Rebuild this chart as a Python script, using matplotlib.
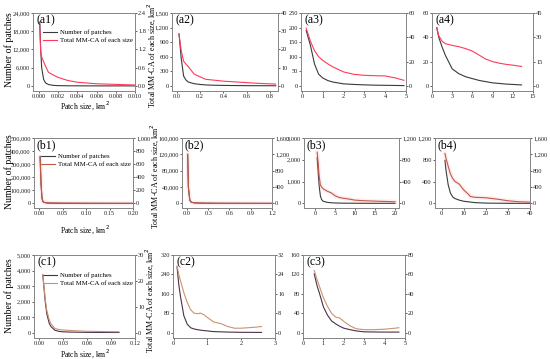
import matplotlib
matplotlib.use("Agg")
import matplotlib.pyplot as plt
from matplotlib.ticker import FuncFormatter

plt.rcParams['font.family'] = ['Liberation Serif', 'DejaVu Serif']

# ---- data ----
a1_x = [0.0001, 0.0002, 0.0003, 0.0005, 0.0007, 0.001, 0.0015, 0.002, 0.003, 0.004, 0.006, 0.008, 0.010]
a1_n = [21000, 12000, 6000, 2200, 1000, 450, 180, 90, 40, 20, 10, 5, 3]
a1_t = [2.0, 1.1, 0.95, 0.8, 0.65, 0.45, 0.36, 0.28, 0.18, 0.12, 0.07, 0.05, 0.03]

a2_x = [0.02, 0.04, 0.06, 0.08, 0.1, 0.15, 0.2, 0.25, 0.3, 0.4, 0.5, 0.6, 0.7, 0.85]
a2_n = [1070, 550, 200, 120, 80, 45, 30, 20, 15, 10, 7, 5, 4, 3]
a2_t = [28.5, 19, 13.5, 12, 10.5, 6.5, 5, 3.6, 3.3, 2.6, 2.2, 1.8, 1.4, 1.0]

a3_x = [0.2, 0.4, 0.6, 0.8, 1.0, 1.25, 1.5, 2.0, 2.5, 3.0, 3.5, 4.0, 4.5, 4.9]
a3_n = [190, 140, 75, 40, 27, 18, 13, 7, 5, 3.5, 2.5, 2, 1.5, 1]
a3_t = [47.5, 37, 29, 24, 21, 18, 15.5, 11.5, 9.5, 8.7, 8.4, 8.2, 6.5, 4.6]

a4_x = [0.7, 1.0, 1.5, 2, 3, 4, 5, 6, 7, 8, 9, 10, 11, 12, 13.3]
a4_n = [48, 40, 32, 25, 14, 10, 7.5, 6, 4.5, 3.5, 2.5, 2, 1.5, 1.2, 0.8]
a4_t = [36, 31, 27.5, 26, 25, 24.2, 23, 21.5, 19, 16.5, 15, 14, 13.3, 12.8, 12]

b1_x = [0.002, 0.004, 0.006, 0.008, 0.01, 0.015, 0.02, 0.03, 0.05, 0.1, 0.15, 0.2]
b1_n = [360000, 150000, 40000, 15000, 8000, 4000, 2500, 1500, 800, 300, 150, 100]
b1_t = [700, 300, 80, 30, 18, 12, 9, 7, 5, 3, 2, 1.5]

b2_x = [0.01, 0.02, 0.04, 0.06, 0.1, 0.2, 0.4, 0.6, 0.8, 1.0, 1.2]
b2_n = [120000, 40000, 8000, 3000, 1500, 700, 300, 150, 100, 70, 50]
b2_t = [1200, 400, 80, 30, 15, 8, 5, 4, 3, 2.5, 2]

b3_x = [0.5, 0.8, 1.0, 1.3, 1.6, 2, 3, 4, 5, 6, 7, 8, 10, 12, 15, 20]
b3_n = [2100, 1300, 800, 350, 180, 100, 50, 30, 20, 15, 12, 10, 8, 6, 5, 3]
b3_t = [940, 700, 500, 340, 300, 270, 225, 195, 140, 110, 95, 85, 60, 50, 42, 30]

b4_x = [1.5, 2, 3, 4, 5, 6, 8, 10, 12, 13, 15, 20, 25, 30, 35, 40]
b4_n = [790, 600, 335, 190, 120, 90, 60, 40, 30, 25, 15, 6, 4, 2, 1, 1]
b4_t = [1220, 1100, 900, 720, 610, 540, 470, 330, 230, 170, 150, 138, 106, 65, 40, 32]

c1_x = [0.005, 0.008, 0.01, 0.013, 0.015, 0.02, 0.025, 0.03, 0.04, 0.06, 0.08, 0.1]
c1_n = [3700, 2000, 1200, 600, 400, 150, 80, 50, 30, 15, 8, 5]
c1_t = [22.5, 13, 8.5, 5, 3.5, 1.6, 1.2, 1.0, 0.8, 0.5, 0.4, 0.3]

c2_x = [0.1, 0.15, 0.2, 0.3, 0.4, 0.5, 0.6, 0.7, 0.8, 0.9, 1.0, 1.1, 1.2, 1.4, 1.6, 1.8, 2.0, 2.2, 2.4, 2.6]
c2_n = [270, 200, 150, 70, 35, 20, 15, 12, 10, 8, 7, 5, 4, 3, 2, 1.5, 1, 1, 0.8, 0.5]
c2_t = [27.5, 24, 21.5, 16.5, 12.5, 9.5, 8, 7.8, 8, 7.3, 6.2, 5.2, 4.3, 3.7, 2.5, 1.8, 1.8, 2.0, 2.2, 2.5]

c3_x = [0.55, 0.7, 0.8, 1.0, 1.2, 1.4, 1.6, 1.8, 2.0, 2.3, 2.6, 3.0, 3.5, 4.0, 4.5, 4.7]
c3_n = [121, 95, 82, 53, 36, 24, 18, 13, 9, 6, 3.5, 1.5, 1.2, 1, 1, 1]
c3_t = [64, 54, 48, 36, 27, 20, 16, 15, 11.5, 7, 4, 3, 3, 3.5, 4.5, 5]

W, H = 550, 359
fig = plt.figure(figsize=(5.5, 3.59), dpi=100)

fs = 4.6
row_cols = {'a': ('#3a3a3a', '#ff3a5a'), 'b': ('#3a3a3a', '#c05a48'), 'c': ('#4b3049', '#c89470')}


def fmt_int(v, p):
    return f"{v:,.0f}"


def panel(name, box, x, n, t, xlim, xticks, xfmt, lticks, rticks, rfmt=fmt_int, legend=False):
    x0, x1, y0, y1 = box
    ax = fig.add_axes([x0 / W, 1 - y1 / H, (x1 - x0) / W, (y1 - y0) / H])
    ax2 = ax.twinx()
    kcol, rcol = row_cols[name[0]]
    l1, = ax.plot(x, n, color=kcol, lw=0.8)
    if name[0] == 'b':
        ax2.plot(x, t, color='#ff8090', lw=3, alpha=0.15)
    l2, = ax2.plot(x, t, color=rcol, lw=0.8)
    ax.set_xlim(*xlim)
    ax.set_xticks(xticks)
    ax.xaxis.set_major_formatter(FuncFormatter(lambda v, p: xfmt.format(v)))
    ax.set_yticks(lticks)
    ax.yaxis.set_major_formatter(FuncFormatter(fmt_int))
    ax.set_ylim(-0.07 * lticks[-1], lticks[-1])
    ax2.set_yticks(rticks)
    ax2.yaxis.set_major_formatter(FuncFormatter(rfmt))
    ax2.set_ylim(-0.07 * rticks[-1], rticks[-1])
    for a in (ax, ax2):
        a.tick_params(labelsize=fs, direction='out', length=1.5, width=0.5, pad=0.8, colors='#222222')
        for s in a.spines.values():
            s.set_color('#888888')
            s.set_linewidth(0.7)
    ax.text(0.03, 0.98, '(' + name + ')', transform=ax.transAxes, fontsize=8.5, va='top', ha='left')
    if legend:
        ax.legend([l1, l2], ['Number of patches', 'Total MM-CA of each size'], loc='upper right',
                  bbox_to_anchor=(1.02, 0.84), frameon=False, fontsize=4.9, handlelength=2.0,
                  labelspacing=0.35, borderaxespad=0.2, handletextpad=0.5)
    return ax


panel('a1', (33, 135, 13, 91), a1_x, a1_n, a1_t, (-0.0006, 0.010), [0, 0.002, 0.004, 0.006, 0.008, 0.010], "{:.3f}",
      [0, 6000, 12000, 18000, 24000], [0, 0.6, 1.2, 1.8, 2.4], lambda v, p: f"{v:.1f}", legend=True)
panel('a2', (172, 278, 13, 91), a2_x, a2_n, a2_t, (-0.04, 0.87), [0, 0.2, 0.4, 0.6, 0.8], "{:.1f}",
      [0, 300, 600, 900, 1200, 1500], [0, 10, 20, 30, 40])
panel('a3', (301, 406, 13, 91), a3_x, a3_n, a3_t, (-0.05, 5), [0, 1, 2, 3, 4, 5], "{:.0f}",
      [0, 50, 100, 150, 200, 250], [0, 20, 40, 60])
panel('a4', (432, 533, 13, 91), a4_x, a4_n, a4_t, (0, 15), [0, 3, 6, 9, 12, 15], "{:.0f}",
      [0, 20, 40, 60], [0, 15, 30, 45])

panel('b1', (34, 133, 138, 208), b1_x, b1_n, b1_t, (-0.011, 0.2), [0, 0.05, 0.10, 0.15, 0.20], "{:.2f}",
      [0, 100000, 200000, 300000, 400000, 500000], [0, 200, 400, 600, 800, 1000], legend=True)
panel('b2', (182, 272, 138, 208), b2_x, b2_n, b2_t, (-0.07, 1.2), [0, 0.3, 0.6, 0.9, 1.2], "{:.1f}",
      [0, 40000, 80000, 120000, 160000], [0, 400, 800, 1200, 1600])
panel('b3', (304, 399, 138, 208), b3_x, b3_n, b3_t, (-2.8, 21), [0, 5, 10, 15, 20], "{:.0f}",
      [0, 1000, 2000, 3000], [0, 400, 800, 1200])
panel('b4', (435, 530, 138, 208), b4_x, b4_n, b4_t, (-3, 40), [0, 10, 20, 30, 40], "{:.0f}",
      [0, 400, 800, 1200], [0, 400, 800, 1200, 1600])

panel('c1', (34, 135, 255, 338), c1_x, c1_n, c1_t, (-0.006, 0.12), [0, 0.03, 0.06, 0.09, 0.12], "{:.2f}",
      [0, 1000, 2000, 3000, 4000, 5000], [0, 10, 20, 30], legend=True)
panel('c2', (173, 275, 255, 338), c2_x, c2_n, c2_t, (-0.02, 3), [0, 1, 2, 3], "{:.0f}",
      [0, 80, 160, 240, 320], [0, 8, 16, 24, 32])
panel('c3', (303, 405, 255, 338), c3_x, c3_n, c3_t, (0, 5), [0, 1, 2, 3, 4, 5], "{:.0f}",
      [0, 40, 80, 120, 160], [0, 20, 40, 60, 80])

# shared axis titles
for yc, xl in [(50, 106), (172, 230), (296, 354)]:
    fig.text(9 / W, 1 - yc / H, 'Number of patches', rotation=90, fontsize=7, ha='center', va='center')
    fig.text(85 / W, 1 - xl / H, 'Patch size, km$^2$', fontsize=5.6, ha='center', va='center')
for xc, yc in [(152, 55), (155, 176), (150, 300)]:
    fig.text(xc / W, 1 - yc / H, 'Total MM-CA of each size, km$^2$', rotation=90, fontsize=5.8,
             ha='center', va='center')

fig.savefig('out.png', dpi=100)
